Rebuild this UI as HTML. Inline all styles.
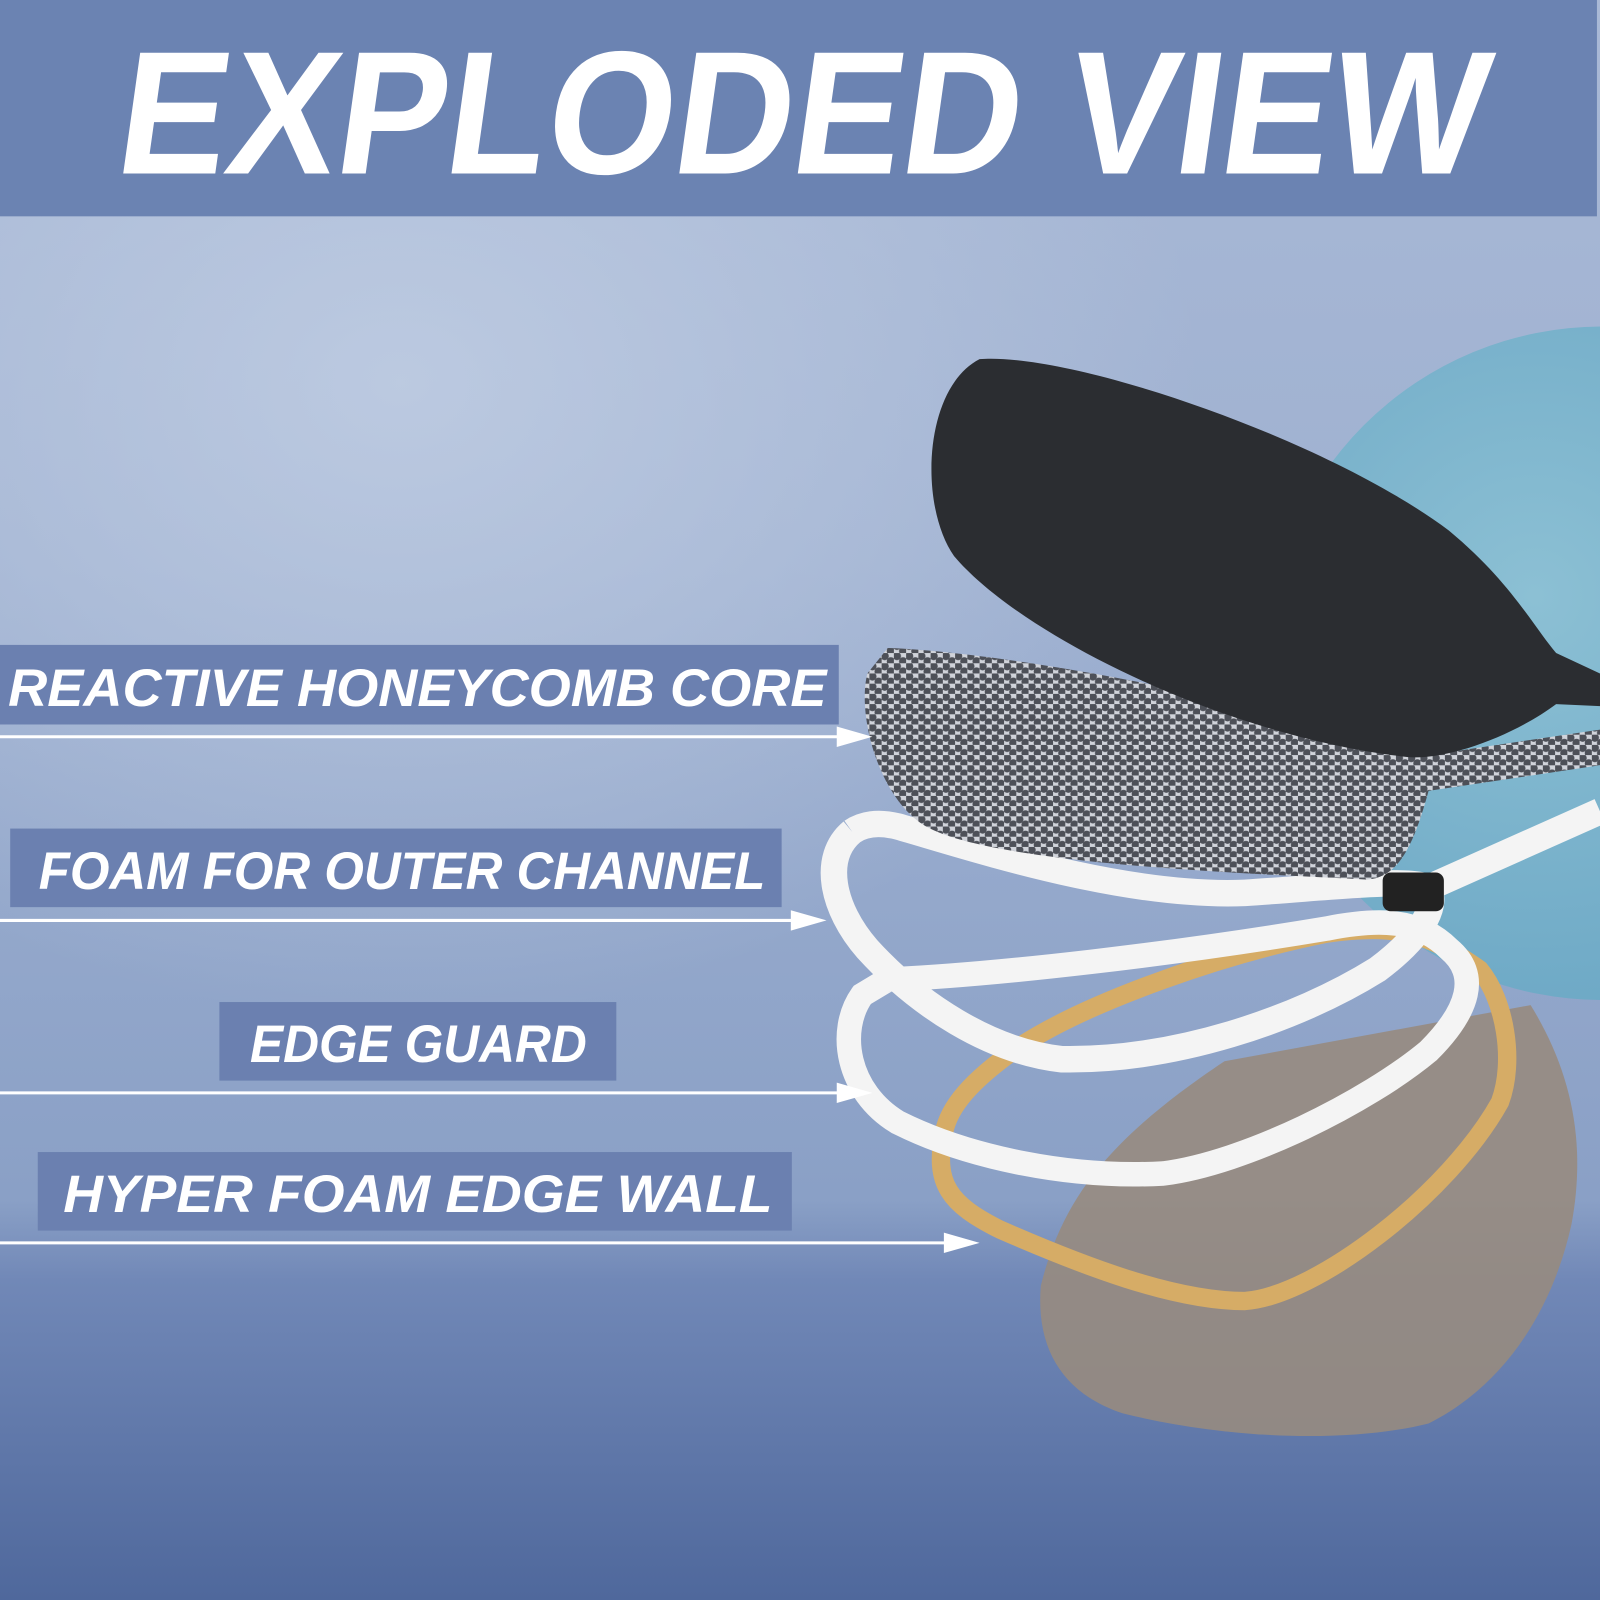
<!DOCTYPE html>
<html><head><meta charset="utf-8"><style>
html,body{margin:0;padding:0;width:1600px;height:1600px;overflow:hidden}
svg{display:block}
text{font-family:"Liberation Sans",sans-serif;font-style:italic;font-weight:bold;fill:#fff}
</style></head><body>
<svg width="1600" height="1600" viewBox="0 0 1568 1568" xmlns="http://www.w3.org/2000/svg">
<defs>
<linearGradient id="bg" x1="0" y1="0" x2="0" y2="1">
<stop offset="0" stop-color="#a9b9d6"/><stop offset="0.35" stop-color="#9fb1d1"/><stop offset="0.75" stop-color="#8aa0c6"/><stop offset="0.8" stop-color="#7188b7"/><stop offset="1" stop-color="#4f689c"/>
</linearGradient>
<radialGradient id="glow" cx="0.25" cy="0.3" r="0.5"><stop offset="0" stop-color="#c2cfe4" stop-opacity="0.8"/><stop offset="1" stop-color="#c2cfe4" stop-opacity="0"/></radialGradient>
<radialGradient id="circ" cx="0.4" cy="0.4" r="0.7"><stop offset="0" stop-color="#8cc0d4"/><stop offset="1" stop-color="#6aa6c4"/></radialGradient>
<pattern id="hex" width="12" height="10" patternUnits="userSpaceOnUse">
<rect width="12" height="10" fill="#d0d3da"/><circle cx="3" cy="3" r="4" fill="#4d5058"/><circle cx="9" cy="8" r="4" fill="#4d5058"/>
</pattern>
</defs>
<rect width="1568" height="1568" fill="url(#bg)"/>
<rect width="1568" height="1250" fill="url(#glow)"/>
<rect x="0" y="0" width="1565" height="212" fill="#6b83b2"/>
<text x="0" y="0" font-size="172" style="font-style:normal;font-weight:bold" transform="translate(110,170) skewX(-8)" textLength="1340" lengthAdjust="spacingAndGlyphs">EXPLODED VIEW</text>

<circle cx="1570" cy="650" r="330" fill="url(#circ)"/>
<path d="M1020 1260 C1040 1180 1080 1120 1200 1040 L1500 985 C1540 1050 1555 1120 1540 1200 C1520 1290 1470 1360 1400 1395 C1320 1415 1200 1410 1100 1385 C1040 1365 1015 1320 1020 1260 Z" fill="#978b7f" opacity="0.9"/>
<path d="M925 1110 C915 1160 930 1180 980 1205 C1060 1240 1150 1275 1220 1275 C1290 1270 1420 1170 1470 1080 C1485 1040 1475 980 1450 950 C1400 915 1370 905 1300 915 C1200 935 1070 980 1000 1025 C950 1060 930 1085 925 1110 Z" fill="none" stroke="#d6ac66" stroke-width="18"/>
<path d="M845 975 C820 1010 830 1070 880 1100 C950 1135 1050 1155 1140 1150 C1220 1140 1340 1080 1400 1030 C1440 990 1450 955 1420 930 C1390 900 1350 900 1300 910 C1150 935 980 955 870 960 Z" fill="none" stroke="#f4f4f4" stroke-width="24"/>
<path d="M835 815 C805 840 815 890 850 930 C900 985 970 1030 1040 1038 C1150 1040 1270 1000 1350 950 C1390 920 1410 890 1400 870 L1568 795 M1400 870 C1380 860 1300 870 1220 875 C1100 880 950 830 880 810 C860 805 845 808 835 815" fill="none" stroke="#f4f4f4" stroke-width="26" stroke-linejoin="round"/>
<rect x="1355" y="855" width="60" height="38" rx="8" fill="#222"/>
<path d="M870 635 C1000 640 1250 690 1400 740 L1568 715 L1568 750 L1400 775 C1385 830 1370 860 1340 862 C1200 855 950 845 900 805 C860 775 840 700 850 660 Z" fill="url(#hex)"/>
<path d="M960 352 C1050 345 1300 430 1420 520 C1480 570 1500 610 1525 640 L1568 660 L1568 692 L1525 690 C1485 720 1420 745 1380 742 C1200 722 1000 622 935 545 C900 495 905 380 960 352 Z" fill="#2b2d31"/>

<g fill="#6b80b0">
<rect x="0" y="632" width="822" height="78"/>
<rect x="10" y="812" width="756" height="77"/>
<rect x="215" y="982" width="389" height="77"/>
<rect x="37" y="1129" width="739" height="77"/>
</g>
<text x="8" y="692" font-size="52" textLength="802" lengthAdjust="spacingAndGlyphs">REACTIVE HONEYCOMB CORE</text>
<text x="38" y="871" font-size="52" textLength="712" lengthAdjust="spacingAndGlyphs">FOAM FOR OUTER CHANNEL</text>
<text x="245" y="1041" font-size="52" textLength="330" lengthAdjust="spacingAndGlyphs">EDGE GUARD</text>
<text x="62" y="1188" font-size="52" textLength="695" lengthAdjust="spacingAndGlyphs">HYPER FOAM EDGE WALL</text>
<g stroke="#fff" stroke-width="3">
<line x1="0" y1="722" x2="830" y2="722"/>
<line x1="0" y1="902" x2="785" y2="902"/>
<line x1="0" y1="1071" x2="830" y2="1071"/>
<line x1="0" y1="1218" x2="935" y2="1218"/>
</g>
<g fill="#fff">
<polygon points="820,712 855,722 820,732"/>
<polygon points="775,892 810,902 775,912"/>
<polygon points="820,1061 855,1071 820,1081"/>
<polygon points="925,1208 960,1218 925,1228"/>
</g>
</svg>
</body></html>
